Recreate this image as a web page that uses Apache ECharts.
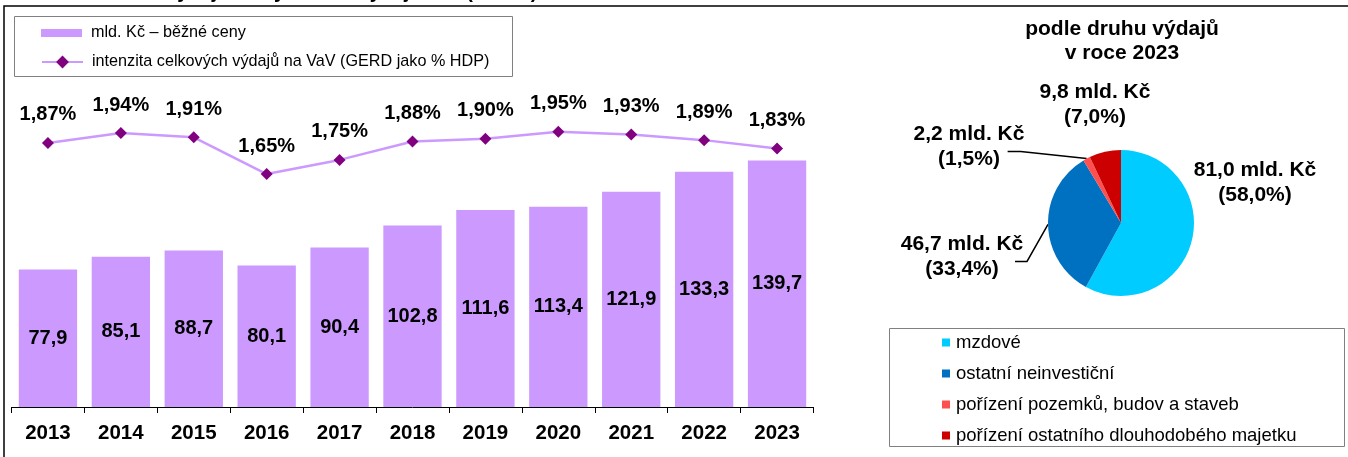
<!DOCTYPE html>
<html>
<head>
<meta charset="utf-8">
<title>Výdaje na VaV</title>
<script src="https://cdn.jsdelivr.net/npm/echarts@6/dist/echarts.min.js"></script>
<style>
  html, body { margin: 0; padding: 0; background: #fff; }
  #chart { width: 1348px; height: 457px; }
</style>
</head>
<body>
<div id="chart"></div>
<script>
// roky a hodnoty (sloupce = mld. Kč, čára = GERD jako % HDP)
var years = ['2013', '2014', '2015', '2016', '2017', '2018', '2019', '2020', '2021', '2022', '2023'];
var spending = [77.9, 85.1, 88.7, 80.1, 90.4, 102.8, 111.6, 113.4, 121.9, 133.3, 139.7];
var intensity = [1.87, 1.94, 1.91, 1.65, 1.75, 1.88, 1.90, 1.95, 1.93, 1.89, 1.83];

// koláč - podle druhu výdajů v roce 2023
var kindNames = ['mzdové', 'ostatní neinvestiční', 'pořízení pozemků, budov a staveb', 'pořízení ostatního dlouhodobého majetku'];
var kindValues = [81.0, 46.7, 2.2, 9.8];
var kindShares = [58.0, 33.4, 1.5, 7.0];
var kindColors = ['#00ccff', '#0070c0', '#ff5050', '#cc0000'];

var barName = 'mld. Kč – běžné ceny';
var lineName = 'intenzita celkových výdajů na VaV (GERD jako % HDP)';

// rozmístění popisků koláče (střed textu) a zalomení vodicích čar
var pieLabelPos = [[1255, 183], [962, 257], [969, 147], [1095, 105]];
var pieGuideBends = [null, [[-21, 37], [-33, 37]], [[-66, -7], [-79, -7]], null];

var FONT = '"Liberation Sans", Arial, sans-serif';

function comma(v, d) {
    return v.toFixed(d).replace('.', ',');
}

var chart = echarts.init(document.getElementById('chart'));

var pieData = kindNames.map(function (n, i) {
    return {
        name: n,
        value: kindValues[i],
        itemStyle: { color: kindColors[i] },
        labelLine: { show: pieGuideBends[i] !== null }
    };
});

var option = {
    animation: false,
    backgroundColor: '#fff',
    textStyle: { fontFamily: FONT },
    //rámeček, boxy legend a nadpis koláče
    graphic: [
        {
            type: 'text', x: 15, y: -18, silent: true,
            style: {
                text: 'Graf 1  Celkové výdaje na výzkum a vývoj v ČR (GERD)',
                font: 'bold 20px ' + FONT, fill: '#000',
                align: 'left', verticalAlign: 'top', textAlign: 'left', textVerticalAlign: 'top'
            }
        },
        {
            type: 'polyline', silent: true,
            shape: { points: [[4, 460], [4, 6], [1350, 6]] },
            style: { stroke: '#000', lineWidth: 1.5, fill: null }
        },
        {
            type: 'rect', silent: true,
            shape: { x: 14.5, y: 16.5, width: 498, height: 60 },
            style: { stroke: '#808080', lineWidth: 1, fill: null }
        },
        {
            type: 'rect', silent: true,
            shape: { x: 889.5, y: 328.5, width: 455, height: 118 },
            style: { stroke: '#808080', lineWidth: 1, fill: null }
        },
        {
            type: 'text', x: 1122, y: 17, silent: true,
            style: {
                text: 'podle druhu výdajů\nv roce 2023',
                font: 'bold 21px ' + FONT, fill: '#000', lineHeight: 24,
                align: 'center', verticalAlign: 'top', textAlign: 'center', textVerticalAlign: 'top'
            }
        }
    ],
    legend: [
        {
            data: [barName], left: 41, top: 25, padding: 0,
            itemWidth: 41, itemHeight: 8, icon: 'rect', selectedMode: false,
            textStyle: { fontSize: 16.2, lineHeight: 16, color: '#000', fontFamily: FONT, padding: [0, 0, 0, 4] }
        },
        {
            data: [lineName], left: 41, top: 54, padding: 0,
            itemWidth: 41, itemHeight: 16, selectedMode: false,
            textStyle: { fontSize: 16.2, lineHeight: 16, color: '#000', fontFamily: FONT, padding: [0, 0, 0, 4] }
        },
        {
            data: kindNames, orient: 'vertical', left: 942, top: 333, padding: 0,
            itemWidth: 8, itemHeight: 8, itemGap: 12, icon: 'rect', selectedMode: false,
            textStyle: { fontSize: 18.5, lineHeight: 18, color: '#000', fontFamily: FONT, padding: [0, 0, 0, 1] }
        }
    ],
    grid: {
        left: 11.5, right: 534.5, top: 54, bottom: 50,
        containLabel: false, outerBoundsMode: 'none'
    },
    xAxis: {
        type: 'category',
        data: years,
        axisLine: { lineStyle: { color: '#000', width: 1 } },
        axisTick: { show: true, length: 6, lineStyle: { color: '#000' } },
        axisLabel: { color: '#000', fontSize: 20.5, fontWeight: 'bold', fontFamily: FONT, margin: 16, interval: 0 },
        splitLine: { show: false }
    },
    yAxis: [
        { type: 'value', min: 0, max: 200, show: false, splitLine: { show: false } },
        { type: 'value', min: 0, max: 2.5, show: false, splitLine: { show: false } }
    ],
    series: [
        {
            name: barName,
            type: 'bar',
            data: spending,
            yAxisIndex: 0,
            barCategoryGap: '20%',
            itemStyle: { color: '#cc99ff' },
            label: {
                show: true, position: 'inside', color: '#000',
                fontSize: 20, fontWeight: 'bold', fontFamily: FONT,
                formatter: function (p) { return comma(p.value, 1); }
            }
        },
        {
            name: lineName,
            type: 'line',
            data: intensity,
            yAxisIndex: 1,
            z: 3,
            symbol: 'diamond',
            symbolSize: 12,
            lineStyle: { color: '#cc99ff', width: 2.5 },
            itemStyle: { color: '#800080' },
            label: {
                show: true, position: 'top', distance: 12, color: '#000',
                fontSize: 20, fontWeight: 'bold', fontFamily: FONT,
                formatter: function (p) { return comma(p.value, 2) + '%'; }
            }
        },
        {
            name: 'podle druhu výdajů',
            type: 'pie',
            center: [1121, 223],
            radius: 73,
            startAngle: 90,
            clockwise: true,
            data: pieData,
            itemStyle: { borderWidth: 0 },
            label: {
                show: true, position: 'outside', color: '#000',
                fontSize: 21, fontWeight: 'bold', fontFamily: FONT, lineHeight: 25,
                align: 'center', overflow: 'none', width: 200,
                formatter: function (p) {
                    return comma(p.value, 1) + ' mld. Kč\n(' + comma(kindShares[p.dataIndex], 1) + '%)';
                }
            },
            labelLine: { show: true, lineStyle: { color: '#000', width: 1.5 } },
            labelLayout: function (params) {
                var pos = pieLabelPos[params.dataIndex];
                var out = { x: pos[0], y: pos[1], align: 'center', verticalAlign: 'middle' };
                var bends = pieGuideBends[params.dataIndex];
                if (bends && params.labelLinePoints) {
                    var s = params.labelLinePoints[0];
                    out.labelLinePoints = [s].concat(bends.map(function (b) {
                        return [s[0] + b[0], s[1] + b[1]];
                    }));
                }
                return out;
            }
        }
    ]
};

chart.setOption(option);
</script>
</body>
</html>
